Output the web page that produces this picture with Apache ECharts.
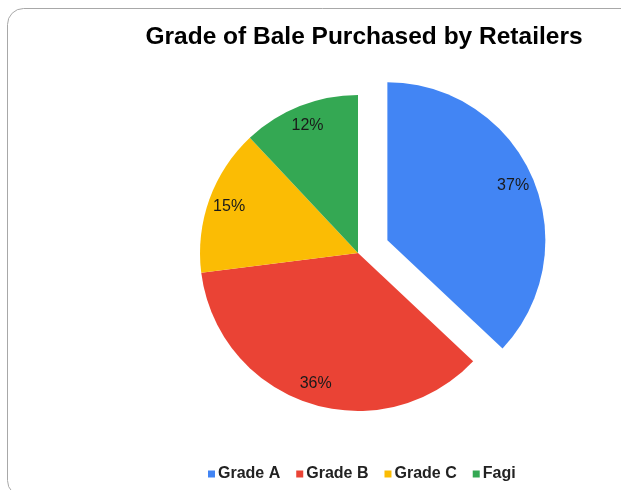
<!DOCTYPE html>
<html>
<head>
<meta charset="utf-8">
<script src="https://cdn.jsdelivr.net/npm/echarts@6/dist/echarts.min.js"></script>
<style>
  html, body { margin: 0; padding: 0; background: #fff; }
  #chart { width: 621px; height: 490px; }
</style>
</head>
<body>
<div id="chart"></div>
<script>
// Share of bale grades bought by retailers (percent)
const categories = ['Grade A', 'Grade B', 'Grade C', 'Fagi'];
const shares = [37, 36, 15, 12];
const colors = ['#4285F4', '#EA4335', '#FBBC04', '#34A853'];

const chart = echarts.init(document.getElementById('chart'), null, { renderer: 'canvas' });

const center = [358, 253];
const outerR = 158;
const pullOut = 32;

function sliceData(transparent) {
  return categories.map((name, i) => ({
    name: name,
    value: shares[i],
    selected: i === 0,
    itemStyle: { color: transparent ? 'rgba(0,0,0,0)' : colors[i] }
  }));
}

const option = {
  animation: false,
  title: {
    text: 'Grade of Bale Purchased by Retailers',
    left: 359,
    textAlign: 'center',
    top: 20,
    textStyle: {
      fontFamily: 'Liberation Sans, Arial, sans-serif',
      fontSize: 24.5,
      fontWeight: 'bold',
      color: '#000'
    }
  },
  legend: {
    data: categories,
    left: 203,
    top: 461,
    icon: 'rect',
    itemWidth: 7,
    itemHeight: 7,
    itemGap: 16,
    selectedMode: false,
    textStyle: {
      fontFamily: 'Liberation Sans, Arial, sans-serif',
      fontSize: 16,
      fontWeight: 'bold',
      color: '#222',
      padding: [0, 0, 0, -2]
    }
  },
  graphic: [{
    type: 'rect',
    silent: true,
    shape: { x: 7.5, y: 8.5, width: 660, height: 488, r: 16 },
    style: { fill: 'none', stroke: '#a8a8a8', lineWidth: 1 }
  }],
  series: [
    {
      type: 'pie',
      center: center,
      radius: [0, outerR],
      startAngle: 90,
      clockwise: true,
      selectedMode: 'single',
      selectedOffset: pullOut,
      silent: true,
      label: { show: false },
      labelLine: { show: false },
      data: sliceData(false)
    },
    {
      // label ring: places the percentage text near the rim of each slice
      type: 'pie',
      center: center,
      radius: [110, outerR],
      startAngle: 90,
      clockwise: true,
      selectedMode: 'single',
      selectedOffset: pullOut,
      silent: true,
      label: {
        show: true,
        position: 'inside',
        formatter: p => Math.round(p.percent) + '%',
        fontFamily: 'Liberation Sans, Arial, sans-serif',
        fontSize: 16,
        color: '#1a1a1a'
      },
      labelLine: { show: false },
      data: sliceData(true)
    }
  ]
};

chart.setOption(option);
</script>
</body>
</html>
